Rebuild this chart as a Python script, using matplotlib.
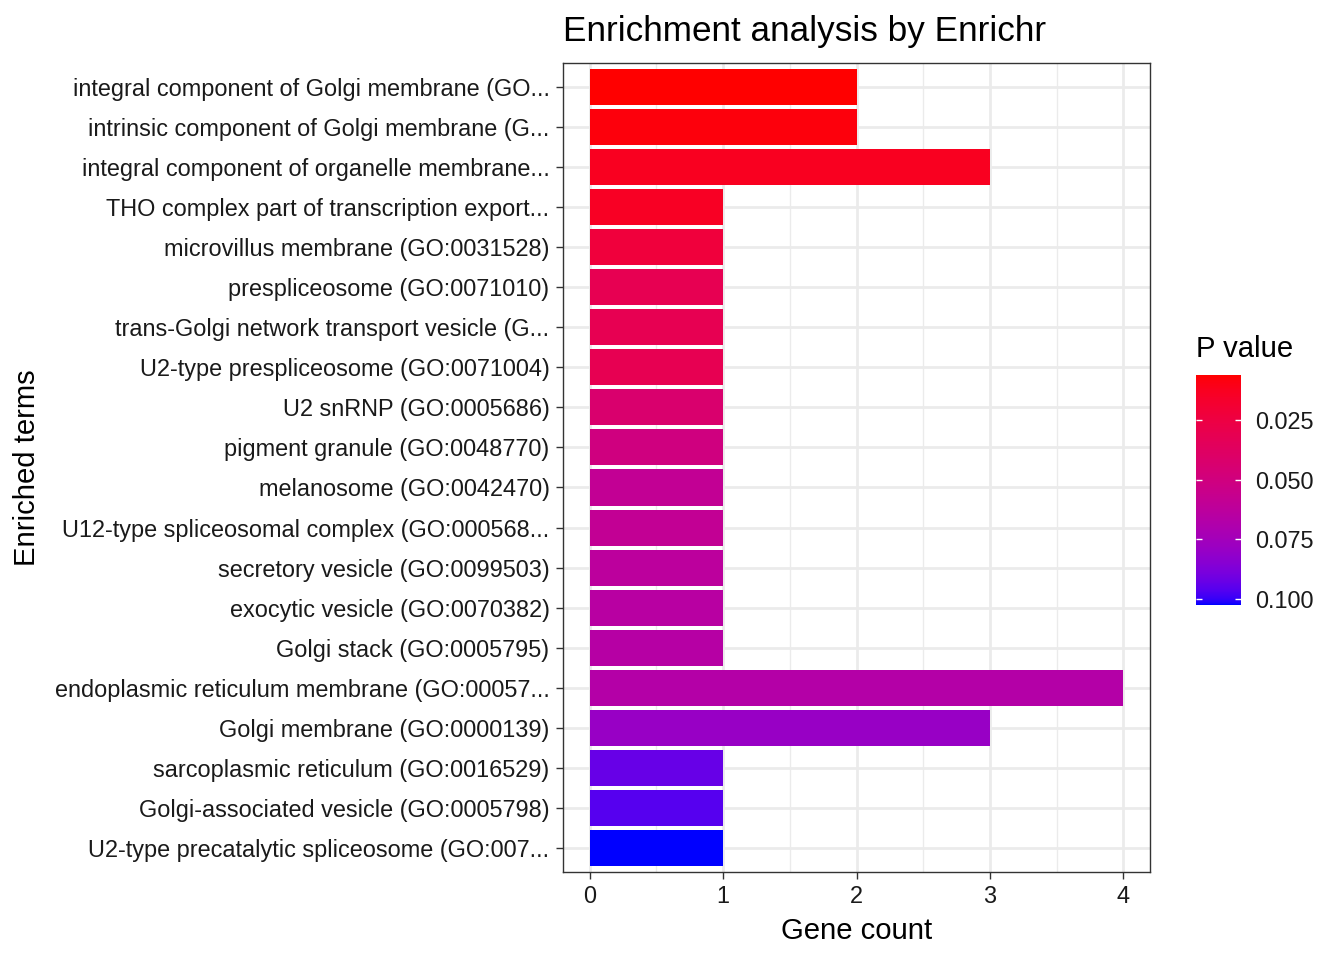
import matplotlib
matplotlib.use("Agg")
import matplotlib.pyplot as plt
from matplotlib.colors import ListedColormap, Normalize
from matplotlib.cm import ScalarMappable
import numpy as np

plt.rcParams['font.family'] = ['Liberation Sans', 'DejaVu Sans']

# data (top to bottom)
terms = [
    "integral component of Golgi membrane (GO...",
    "intrinsic component of Golgi membrane (G...",
    "integral component of organelle membrane...",
    "THO complex part of transcription export...",
    "microvillus membrane (GO:0031528)",
    "prespliceosome (GO:0071010)",
    "trans-Golgi network transport vesicle (G...",
    "U2-type prespliceosome (GO:0071004)",
    "U2 snRNP (GO:0005686)",
    "pigment granule (GO:0048770)",
    "melanosome (GO:0042470)",
    "U12-type spliceosomal complex (GO:000568...",
    "secretory vesicle (GO:0099503)",
    "exocytic vesicle (GO:0070382)",
    "Golgi stack (GO:0005795)",
    "endoplasmic reticulum membrane (GO:00057...",
    "Golgi membrane (GO:0000139)",
    "sarcoplasmic reticulum (GO:0016529)",
    "Golgi-associated vesicle (GO:0005798)",
    "U2-type precatalytic spliceosome (GO:007...",
]
gene_count = [2, 2, 3, 1, 1, 1, 1, 1, 1, 1, 1, 1, 1, 1, 1, 4, 3, 1, 1, 1]
p_value = [0.0062, 0.0081, 0.0129, 0.0139, 0.0226, 0.0312, 0.0312, 0.0314,
           0.0428, 0.0505, 0.0592, 0.0592, 0.0630, 0.0650, 0.0660, 0.0670,
           0.0794, 0.0929, 0.0958, 0.1025]
p_ticks = [0.025, 0.050, 0.075, 0.100]


# red -> blue gradient interpolated in CIELAB, like ggplot's scale_fill_gradient
def srgb_to_lab(rgb):
    c = np.array(rgb, dtype=float)
    lin = np.where(c <= 0.04045, c / 12.92, ((c + 0.055) / 1.055) ** 2.4)
    m = np.array([[0.4124, 0.3576, 0.1805],
                  [0.2126, 0.7152, 0.0722],
                  [0.0193, 0.1192, 0.9505]])
    xyz = m @ lin / np.array([0.95047, 1.0, 1.08883])
    f = np.where(xyz > 0.008856, np.cbrt(xyz), 7.787 * xyz + 16 / 116)
    return np.array([116 * f[1] - 16, 500 * (f[0] - f[1]), 200 * (f[1] - f[2])])


def lab_to_srgb(lab):
    L, a, b = lab
    fy = (L + 16) / 116
    f = np.array([fy + a / 500, fy, fy - b / 200])
    xyz = np.where(f ** 3 > 0.008856, f ** 3, (f - 16 / 116) / 7.787)
    xyz = xyz * np.array([0.95047, 1.0, 1.08883])
    m = np.array([[3.2406, -1.5372, -0.4986],
                  [-0.9689, 1.8758, 0.0415],
                  [0.0557, -0.2040, 1.0570]])
    lin = np.clip(m @ xyz, 0, 1)
    c = np.where(lin <= 0.0031308, 12.92 * lin, 1.055 * lin ** (1 / 2.4) - 0.055)
    return np.clip(c, 0, 1)


lab_lo = srgb_to_lab([1, 0, 0])
lab_hi = srgb_to_lab([0, 0, 1])
cols = [lab_to_srgb(lab_lo + t * (lab_hi - lab_lo)) for t in np.linspace(0, 1, 256)]
cmap = ListedColormap(cols)
norm = Normalize(vmin=min(p_value), vmax=max(p_value))

fig = plt.figure(figsize=(13.44, 9.6), dpi=100)
ax = fig.add_axes([0.4189, 0.0917, 0.4368, 0.8427])

y = np.arange(len(terms))[::-1] + 1
ax.barh(y, gene_count, height=0.9, color=cmap(norm(p_value)), zorder=3)

ax.set_xlim(-0.2, 4.2)
ax.set_ylim(0.4, len(terms) + 0.6)
ax.set_xticks([0, 1, 2, 3, 4])
ax.set_xticks([0.5, 1.5, 2.5, 3.5], minor=True)
ax.set_yticks(y)
ax.set_yticklabels(terms)

ax.grid(which='major', color='#EBEBEB', linewidth=2.0, zorder=0)
ax.grid(which='minor', axis='x', color='#EBEBEB', linewidth=1.0, zorder=0)
ax.set_axisbelow(True)
ax.tick_params(which='major', length=5.3, width=1.0, color='#333333',
               labelsize=16.9, labelcolor='#1A1A1A', pad=4.4)
ax.tick_params(which='minor', length=0)
for s in ax.spines.values():
    s.set_color('#333333')
    s.set_linewidth(1.0)

ax.set_title('Enrichment analysis by Enrichr', loc='left', fontsize=25.3, pad=16)
ax.set_xlabel('Gene count', fontsize=21.1, labelpad=6)
ax.set_ylabel('Enriched terms', fontsize=21.1)
ax.yaxis.set_label_coords(-0.89, 0.5)

# colour bar legend
cax = fig.add_axes([0.8899, 0.3698, 0.0335, 0.2396])
sm = ScalarMappable(norm=norm, cmap=cmap)
cb = fig.colorbar(sm, cax=cax)
cb.outline.set_visible(False)
cax.invert_yaxis()
cb.set_ticks(p_ticks)
cb.set_ticklabels(['%.3f' % v for v in p_ticks])
cax.yaxis.set_ticks_position('both')
cax.tick_params(direction='in', length=4.5, width=1.0, color='white',
                labelsize=16.9, labelcolor='#1A1A1A', pad=10,
                labelleft=False, labelright=True)
cax.set_title('P value', loc='left', fontsize=21.1, pad=13)

fig.savefig('out.png', dpi=100)
